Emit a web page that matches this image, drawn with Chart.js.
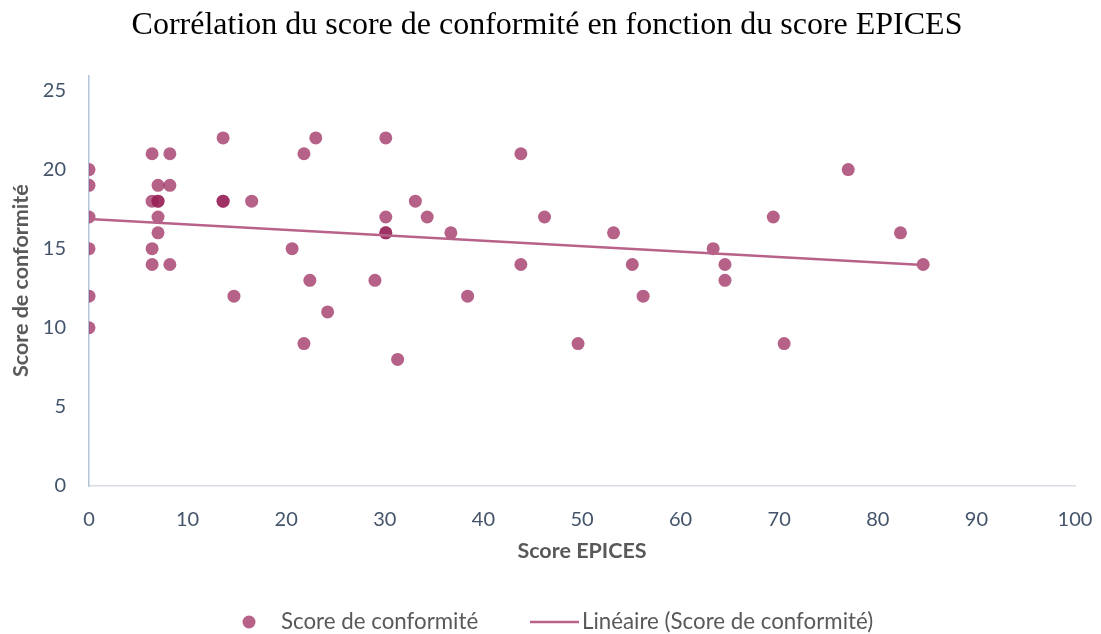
<!DOCTYPE html>
<html>
<head>
<meta charset="utf-8">
<script src="https://cdn.jsdelivr.net/npm/chart.js@4.4.1/dist/chart.umd.min.js"></script>
<style>
  html, body { margin: 0; padding: 0; background: #ffffff; }
  #wrap { width: 1101px; height: 634px; position: relative; }
</style>
</head>
<body>
<div id="wrap"><canvas id="c" width="1101" height="634"></canvas></div>
<script>
// ---- Data ----
const scoreEpices = [
  0, 0, 0, 0, 0, 0,
  6.4, 6.4, 6.4, 6.4,
  7.0, 7.0, 7.0, 7.0, 7.0,
  8.2, 8.2, 8.2,
  13.6, 13.6, 13.6,
  14.7, 16.5, 20.6, 21.8, 21.8, 22.4, 23.0, 24.2, 29.0,
  30.1, 30.1, 30.1, 30.1,
  31.3, 33.1, 34.3, 36.7, 38.4, 43.8, 43.8, 46.2, 49.6, 53.2, 55.1, 56.2,
  63.3, 64.5, 64.5, 69.4, 70.5, 77.0, 82.3, 84.6
];
const scoreConformite = [
  20, 19, 17, 15, 12, 10,
  21, 18, 15, 14,
  19, 18, 18, 17, 16,
  21, 19, 14,
  22, 18, 18,
  12, 18, 15, 21, 9, 13, 22, 11, 13,
  22, 17, 16, 16,
  8, 18, 17, 16, 12, 21, 14, 17, 9, 16, 14, 12,
  15, 14, 13, 17, 9, 20, 16, 14
];
const xTicks = [0, 10, 20, 30, 40, 50, 60, 70, 80, 90, 100];
const yTicks = [0, 5, 10, 15, 20, 25];

const titleText = "Corrélation du score de conformité en fonction du score EPICES";
const xTitle = "Score EPICES";
const yTitle = "Score de conformité";
const seriesName = "Score de conformité";
const trendName = "Linéaire (Score de conformité)";

// ---- Build datasets ----
const points = scoreEpices.map((x, i) => ({ x: x, y: scoreConformite[i] }));

// least-squares linear trendline from the data
const n = scoreEpices.length;
const mx = scoreEpices.reduce((a, b) => a + b, 0) / n;
const my = scoreConformite.reduce((a, b) => a + b, 0) / n;
let sxy = 0, sxx = 0;
for (let i = 0; i < n; i++) {
  sxy += (scoreEpices[i] - mx) * (scoreConformite[i] - my);
  sxx += (scoreEpices[i] - mx) * (scoreEpices[i] - mx);
}
const slope = sxy / sxx;
const intercept = my - slope * mx;
const xMin = Math.min(...scoreEpices), xMax = Math.max(...scoreEpices);
const trend = [
  { x: xMin, y: intercept + slope * xMin },
  { x: xMax, y: intercept + slope * xMax }
];

const pointColor = 'rgba(150, 30, 85, 0.7)';
const lineColor = 'rgb(184, 98, 138)';
const tickColor = '#44546a';
const labelColor = '#595959';
const fontSans = 'Lato, "Open Sans", sans-serif';

const legendPlugin = {
  id: 'customLegend',
  afterLayout(chart) {
    // centre the title on the whole page as in the reference
    if (chart.titleBlock) {
      chart.titleBlock.left = 10;
      chart.titleBlock.right = 1084;
    }
  },
  afterDraw(chart) {
    const ctx = chart.ctx;
    ctx.save();
    const y = 622;
    ctx.fillStyle = pointColor;
    ctx.beginPath();
    ctx.arc(249, y, 6.5, 0, Math.PI * 2);
    ctx.fill();
    ctx.font = '22.3px ' + fontSans;
    ctx.fillStyle = labelColor;
    ctx.textBaseline = 'middle';
    ctx.textAlign = 'left';
    ctx.fillText(seriesName, 281, y);
    ctx.strokeStyle = lineColor;
    ctx.lineWidth = 2.5;
    ctx.beginPath();
    ctx.moveTo(530, y);
    ctx.lineTo(579, y);
    ctx.stroke();
    ctx.fillText(trendName, 582, y);
    ctx.restore();
  }
};

new Chart(document.getElementById('c'), {
  type: 'scatter',
  data: {
    datasets: [
      {
        label: trendName,
        data: trend,
        type: 'line',
        showLine: true,
        borderColor: lineColor,
        borderWidth: 2.5,
        pointRadius: 0,
        fill: false,
        order: 0
      },
      {
        label: seriesName,
        data: points,
        backgroundColor: pointColor,
        borderWidth: 0,
        pointRadius: 6.5,
        pointHoverRadius: 6.5,
        order: 1
      }
    ]
  },
  options: {
    responsive: false,
    animation: false,
    devicePixelRatio: 1,
    layout: { padding: { left: 0, right: 26, top: 0, bottom: 70 } },
    plugins: {
      legend: { display: false },
      tooltip: { enabled: false },
      title: {
        display: true,
        text: titleText,
        color: '#000000',
        font: { family: '"Liberation Serif", "Times New Roman", serif', size: 32, weight: 'normal', lineHeight: 1.2 },
        padding: { top: 6, bottom: 31 }
      }
    },
    scales: {
      x: {
        type: 'linear',
        min: 0,
        max: 100,
        afterBuildTicks: (s) => { s.ticks = xTicks.map(v => ({ value: v })); },
        afterFit: (s) => { s.height = 78; s.paddingLeft = 0; s.paddingRight = 0; },
        grid: { display: false, drawTicks: false },
        border: { display: true, color: '#d9dde3', width: 1.5 },
        ticks: { color: tickColor, font: { family: fontSans, size: 20 }, padding: 22, maxRotation: 0 },
        title: {
          display: true, text: xTitle, color: labelColor,
          font: { family: fontSans, size: 21.5, weight: 'bold' },
          padding: { top: 0, bottom: 0 }
        }
      },
      y: {
        type: 'linear',
        min: 0,
        max: 25.95,
        afterBuildTicks: (s) => { s.ticks = yTicks.map(v => ({ value: v })); },
        afterFit: (s) => { s.width = 89; },
        grid: { display: false, drawTicks: false },
        border: { display: true, color: '#b4c4d9', width: 1.5 },
        ticks: { color: tickColor, font: { family: fontSans, size: 20 }, padding: 23 },
        title: {
          display: true, text: yTitle, color: labelColor,
          font: { family: fontSans, size: 21.5, weight: 'bold' },
          padding: { top: 8, bottom: 0 }
        }
      }
    }
  },
  plugins: [legendPlugin]
});
</script>
</body>
</html>
